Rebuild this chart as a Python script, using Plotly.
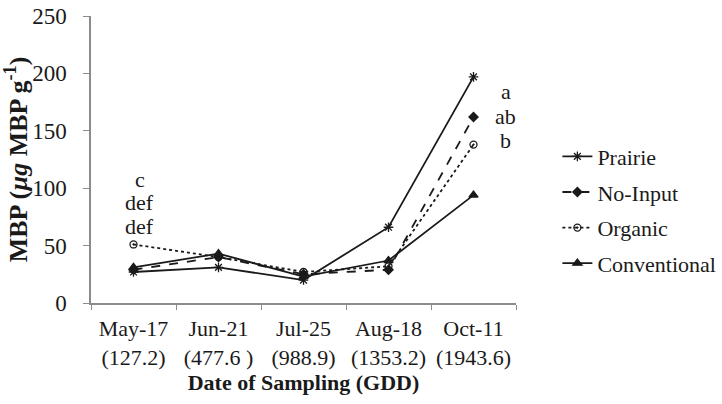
import plotly.graph_objects as go

dates = ["May-17", "Jun-21", "Jul-25", "Aug-18", "Oct-11"]
gdd = ["127.2", "477.6 ", "988.9", "1353.2", "1943.6"]
prairie = [27, 31, 20, 66, 197]
no_input = [29, 40, 25, 29, 162]
organic = [51, 40, 27, 32, 138]
conventional = [31, 43, 23, 37, 94]
letters_may = ["c", "def", "def"]
letters_oct = ["a", "ab", "b"]

cats = [f"{d}<br>({g})" for d, g in zip(dates, gdd)]
FONT = "Liberation Serif"
INK = "#1a1a1a"
FS = 22

fig = go.Figure()
series = [
    ("Prairie", prairie, "solid", "asterisk-open", 8),
    ("No-Input", no_input, "dash", "diamond", 7),
    ("Organic", organic, "dot", "circle-open-dot", 7),
    ("Conventional", conventional, "solid", "triangle-up", 8),
]
for name, vals, dash, sym, sz in series:
    fig.add_trace(go.Scatter(
        x=cats, y=vals, name=name, mode="lines+markers",
        line=dict(color=INK, width=1.8, dash=dash),
        marker=dict(symbol=sym, size=sz, color=INK, line=dict(color=INK, width=1.3)),
        legendgroup=name,
    ))

# significance letters
for i, t in enumerate(letters_may):
    fig.add_annotation(x=cats[0], y=organic[0], text=t, showarrow=False,
                       xshift=6, yshift=65 - i * 23.5, font=dict(family=FONT, size=FS, color=INK))
for i, t in enumerate(letters_oct):
    fig.add_annotation(x=cats[4], y=prairie[4], text=t, showarrow=False,
                       xshift=32, yshift=-15 - i * 24.5, font=dict(family=FONT, size=FS, color=INK))

fig.update_layout(
    width=722, height=404,
    margin=dict(l=91, r=206, t=16, b=101, autoexpand=False),
    paper_bgcolor="white", plot_bgcolor="white",
    font=dict(family=FONT, size=FS, color=INK),
    showlegend=True,
    legend=dict(xref="container", yref="container", x=0.772, y=0.48,
                xanchor="left", yanchor="middle",
                font=dict(family=FONT, size=FS, color=INK),
                tracegroupgap=4, bgcolor="rgba(0,0,0,0)"),
    xaxis=dict(
        automargin=False, tickangle=0,
        showline=True, linecolor="#8c8c8c", linewidth=1.5,
        ticks="outside", tickson="boundaries", ticklen=5, tickcolor="#8c8c8c",
        ticklabelstandoff=5,
        showgrid=False, tickfont=dict(family=FONT, size=FS, color=INK),
        title=dict(text="<b>Date of Sampling (GDD)</b>", font=dict(family=FONT, size=FS, color=INK), standoff=1),
        range=[-0.5, 4.5],
    ),
    yaxis=dict(
        automargin=False,
        range=[0, 250], dtick=50, showline=True, linecolor="#8c8c8c", linewidth=1.5,
        ticks="outside", ticklen=6, tickcolor="#8c8c8c", showgrid=False, zeroline=False,
        ticklabelstandoff=12,
        tickfont=dict(family=FONT, size=FS + 1, color=INK),
        title=dict(text="<b>MBP (<i>µg</i> MBP g<sup>-1</sup>)</b>", font=dict(family=FONT, size=26, color=INK), standoff=2),
    ),
)

fig.write_html("out.html", config={"displayModeBar": False},
               post_script="document.body.style.margin='0';")
